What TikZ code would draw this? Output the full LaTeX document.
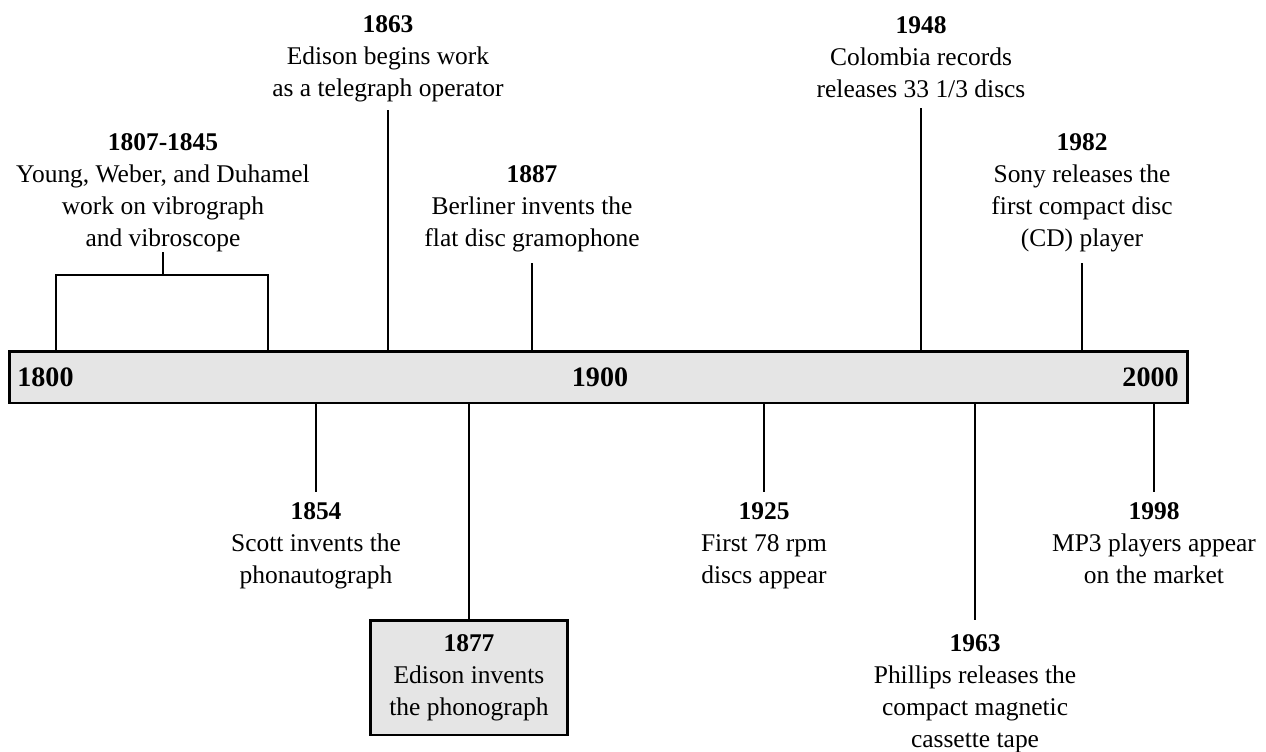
\documentclass[tikz,border=0pt]{standalone}
\usepackage{fontspec}
\setmainfont{Liberation Serif}
\definecolor{barfill}{HTML}{E5E5E5}
\tikzset{
  evt/.style={align=center, inner sep=0pt, font=\fontsize{14.5}{18.2}\selectfont},
  yearlbl/.style={inner sep=0pt, font=\fontsize{16}{18}\selectfont\bfseries},
  conn/.style={line width=1.1pt},
  thickbox/.style={draw, line width=1.7pt, fill=barfill},
}
\begin{document}
\begin{tikzpicture}[x=0.02cm, y=-0.02cm]
    \useasboundingbox (0,0) rectangle (1266,751);
    \node[thickbox, minimum width=23.58cm, minimum height=1.04cm, inner sep=0pt] (bar) at (598.5,377) {};
    \node[yearlbl, anchor=west] (y1800) at (17,377) {1800};
    \node[yearlbl] (y1900) at (600,377) {1900};
    \node[yearlbl, anchor=east] (y2000) at (1179,377) {2000};

    \node[evt, anchor=south] (e1807) at (163,252) {\textbf{1807-1845}\\Young, Weber, and Duhamel\\work on vibrograph\\and vibroscope};
    \node[evt, anchor=south] (e1863) at (388,102.5) {\textbf{1863}\\Edison begins work\\as a telegraph operator};
    \node[evt, anchor=south] (e1887) at (532,252) {\textbf{1887}\\Berliner invents the\\flat disc gramophone};
    \node[evt, anchor=south] (e1948) at (921,98) {\textbf{1948}\\Colombia records\\releases 33 1/3 discs};
    \node[evt, anchor=south] (e1982) at (1082,252) {\textbf{1982}\\Sony releases the\\first compact disc\\(CD) player};

    \node[evt, anchor=north] (e1854) at (316,502) {\textbf{1854}\\Scott invents the\\phonautograph};
    \node[evt, anchor=north] (e1925) at (764,502) {\textbf{1925}\\First 78 rpm\\discs appear};
    \node[evt, anchor=north] (e1998) at (1154,502) {\textbf{1998}\\MP3 players appear\\on the market};
    \node[evt, anchor=north] (e1963) at (975,634) {\textbf{1963}\\Phillips releases the\\compact magnetic\\cassette tape};
    \node[thickbox, evt, minimum width=3.96cm, minimum height=2.3cm] (e1877) at (469,677.5) {\textbf{1877}\\Edison invents\\the phonograph};

    \coordinate (brk) at (163,275);
    \draw[conn] (e1807.south) -- (brk);
    \draw[conn] (56,0 |- bar.north) |- (brk) -| (268,0 |- bar.north);
    \draw[conn, shorten <=4.3pt] (e1863.south) -- (e1863.south |- bar.north);
    \draw[conn, shorten <=6.3pt] (e1887.south) -- (e1887.south |- bar.north);
    \draw[conn, shorten <=5.7pt] (e1948.south) -- (e1948.south |- bar.north);
    \draw[conn, shorten <=6.3pt] (e1982.south) -- (e1982.south |- bar.north);

    \draw[conn, shorten >=5.7pt] (e1854.north |- bar.south) -- (e1854.north);
    \draw[conn, shorten >=5.7pt] (e1925.north |- bar.south) -- (e1925.north);
    \draw[conn, shorten >=5.7pt] (e1998.north |- bar.south) -- (e1998.north);
    \draw[conn, shorten >=8pt] (e1963.north |- bar.south) -- (e1963.north);
    \draw[conn] (e1877.north |- bar.south) -- (e1877.north);
\end{tikzpicture}
\end{document}
